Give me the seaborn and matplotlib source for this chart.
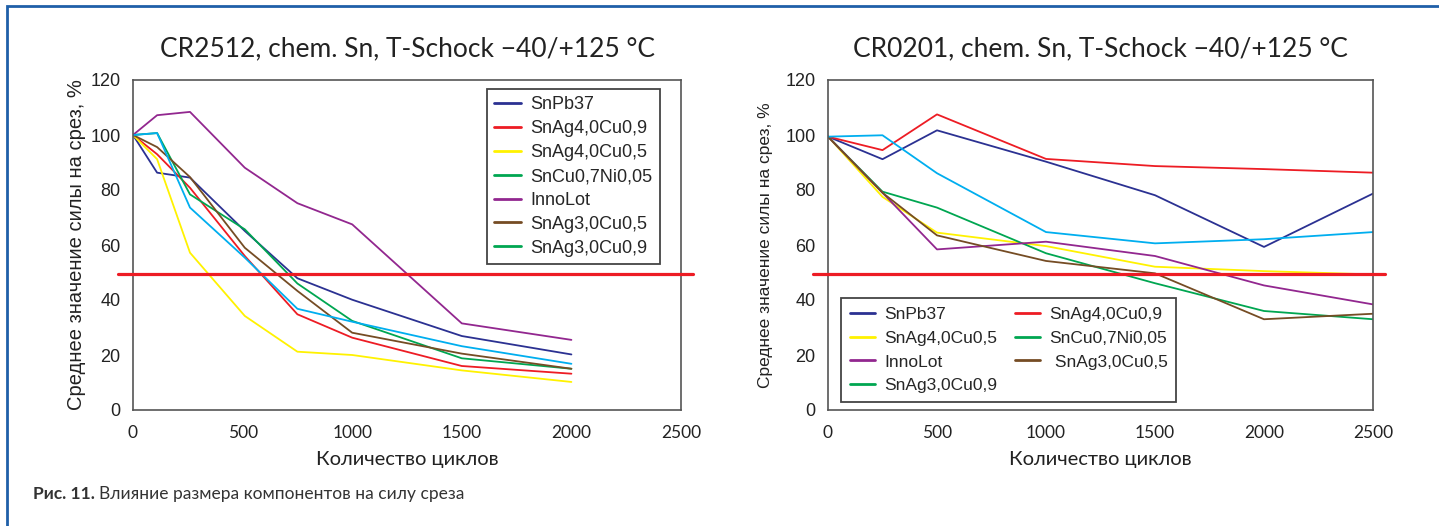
import pandas as pd
import matplotlib.pyplot as plt
import seaborn as sns
from matplotlib.lines import Line2D
from matplotlib.patches import Rectangle

sns.set_style("white")
plt.rcParams['font.family'] = ['Liberation Sans', 'DejaVu Sans']

# ---- data ----
series_names = ['SnPb37', 'SnAg4,0Cu0,9', 'SnAg4,0Cu0,5', 'SnCu0,7Ni0,05',
                'InnoLot', 'SnAg3,0Cu0,5', 'SnAg3,0Cu0,9']
series_colors = ['#2b3192', '#ed1c24', '#fff200', '#00a651',
                 '#92278f', '#754c24', '#00aeef']
legend_colors = ['#2b3192', '#ed1c24', '#fff200', '#00a651',
                 '#92278f', '#754c24', '#00a651']

# CR2512
cycles_left = [0, 110, 260, 510, 750, 1000, 1500, 2000]
left_snpb37 = [100, 86.3, 84.5, 65.1, 47.9, 40.1, 26.9, 20.2]
left_snag40cu09 = [100, 93.0, 80.8, 56.0, 34.8, 26.3, 16.0, 13.2]
left_snag40cu05 = [100, 91.2, 57.2, 34.2, 21.2, 20.0, 14.4, 10.2]
left_sncu07ni005 = [100, 100.7, 78.4, 65.7, 46.0, 32.4, 18.8, 15.0]
left_innolot = [100, 107.2, 108.4, 88.1, 75.2, 67.5, 31.5, 25.5]
left_snag30cu05 = [100, 95.6, 84.7, 59.0, 43.3, 28.1, 20.5, 15.0]
left_snag30cu09 = [100, 100.7, 73.6, 55.4, 36.8, 32.1, 23.2, 16.8]

# CR0201
cycles_right = [0, 250, 500, 1000, 1500, 2000, 2500]
right_snpb37 = [99.4, 91.2, 101.7, 90.3, 78.1, 59.3, 78.7]
right_snag40cu09 = [99.4, 94.5, 107.5, 91.3, 88.7, 87.6, 86.3]
right_snag40cu05 = [99.4, 77.5, 64.5, 59.6, 52.1, 50.5, 49.3]
right_sncu07ni005 = [99.4, 79.4, 73.6, 57.0, 46.1, 36.0, 33.0]
right_innolot = [99.4, 79.0, 58.4, 61.2, 56.0, 45.3, 38.4]
right_snag30cu05 = [99.4, 79.0, 63.5, 54.2, 49.7, 33.0, 35.0]
right_snag30cu09 = [99.4, 99.9, 86.1, 64.7, 60.6, 62.1, 64.7]

threshold = 49.5

titles = ['CR2512, chem. Sn, T-Schock \u221240/+125 \u00b0C',
          'CR0201, chem. Sn, T-Schock \u221240/+125 \u00b0C']
xlabel = 'Количество циклов'
ylabel = 'Среднее значение силы на срез, %'
caption_bold = 'Рис. 11.'
caption_text = 'Влияние размера компонентов на силу среза'


def to_long(cycles, values):
    rows = []
    for name, vals in zip(series_names, values):
        for c, v in zip(cycles, vals):
            rows.append({'cycles': c, 'value': v, 'alloy': name})
    return pd.DataFrame(rows)


df_left = to_long(cycles_left, [left_snpb37, left_snag40cu09, left_snag40cu05,
                                left_sncu07ni005, left_innolot, left_snag30cu05,
                                left_snag30cu09])
df_right = to_long(cycles_right, [right_snpb37, right_snag40cu09, right_snag40cu05,
                                  right_sncu07ni005, right_innolot, right_snag30cu05,
                                  right_snag30cu09])

palette = dict(zip(series_names, series_colors))

fig = plt.figure(figsize=(14.39, 5.26), dpi=100)
ax1 = fig.add_axes([133 / 1439, 1 - 410 / 526, 548 / 1439, 330 / 526])
ax2 = fig.add_axes([828 / 1439, 1 - 410 / 526, 545 / 1439, 330 / 526])

title_font = ['Lato', 'DejaVu Sans']

for ax, df, title in [(ax1, df_left, titles[0]), (ax2, df_right, titles[1])]:
    sns.lineplot(data=df, x='cycles', y='value', hue='alloy', palette=palette,
                 hue_order=series_names, estimator=None, linewidth=1.3,
                 legend=False, ax=ax)
    ax.plot([-0.028, 1.022], [threshold, threshold], color='#ed1c24', lw=2.3,
            transform=ax.get_yaxis_transform(), clip_on=False, zorder=5)
    ax.set_xlim(0, 2500)
    ax.set_ylim(0, 120)
    ax.set_xticks(range(0, 2501, 500))
    ax.set_yticks(range(0, 121, 20))
    ax.tick_params(axis='both', direction='out', length=5, width=1.1,
                   color='#444444', labelcolor='#222222', pad=4)
    ax.tick_params(axis='x', pad=6)
    for lab in ax.get_xticklabels():
        lab.set_family(title_font)
        lab.set_fontsize(12.5)
    for lab in ax.get_yticklabels():
        lab.set_fontsize(13)
    for sp in ax.spines.values():
        sp.set_color('#555555')
        sp.set_linewidth(1.2)
    ax.set_title(title, fontsize=19, family=title_font, color='#222222', pad=17)
    ax.set_xlabel(xlabel, fontsize=14.5, family=title_font, color='#222222', labelpad=7)
    ax.grid(False)

ax1.set_ylabel(ylabel, fontsize=14.5, color='#222222')
ax2.set_ylabel(ylabel, fontsize=12.5, color='#222222')
ax1.yaxis.set_label_coords(-0.085, 0.5)
ax2.yaxis.set_label_coords(-0.1, 0.5)

handles = [Line2D([], [], color=c, lw=2) for c in legend_colors]

leg1 = ax1.legend(handles, series_names, loc='upper right',
                  bbox_to_anchor=(0.962, 0.973), borderaxespad=0,
                  fontsize=13, frameon=True, fancybox=False, framealpha=1,
                  edgecolor='#444444', handlelength=1.45, handletextpad=0.55,
                  labelspacing=0.38, borderpad=0.42)
leg1.get_frame().set_linewidth(1.3)

order = [0, 2, 4, 6, 1, 3, 5]
labels2 = [series_names[i] for i in order]
labels2[6] = ' ' + labels2[6]
leg2 = ax2.legend([handles[i] for i in order], labels2, loc='lower left',
                  bbox_to_anchor=(0.024, 0.024), borderaxespad=0, ncol=2,
                  fontsize=12.5, frameon=True, fancybox=False, framealpha=1,
                  edgecolor='#444444', handlelength=1.45, handletextpad=0.55,
                  labelspacing=0.5, columnspacing=1.0, borderpad=0.5)
leg2.get_frame().set_linewidth(1.3)

# outer frame
fig.patches.append(Rectangle((7 / 1439, -0.1), 1.2, 1.1 - 6 / 526,
                             transform=fig.transFigure, fill=False,
                             edgecolor='#1f5fa8', lw=2.0, zorder=0))

# caption
t1 = fig.text(33 / 1439, 1 - 494 / 526, caption_bold, fontsize=12.5,
              fontweight='bold', family=title_font, color='#333333', va='center')
fig.canvas.draw()
bb = t1.get_window_extent()
fig.text((bb.x1 + 4) / 1439, 1 - 494 / 526, caption_text, fontsize=12.5,
         family=title_font, color='#333333', va='center')

plt.savefig('out.png', dpi=100)
plt.close()
